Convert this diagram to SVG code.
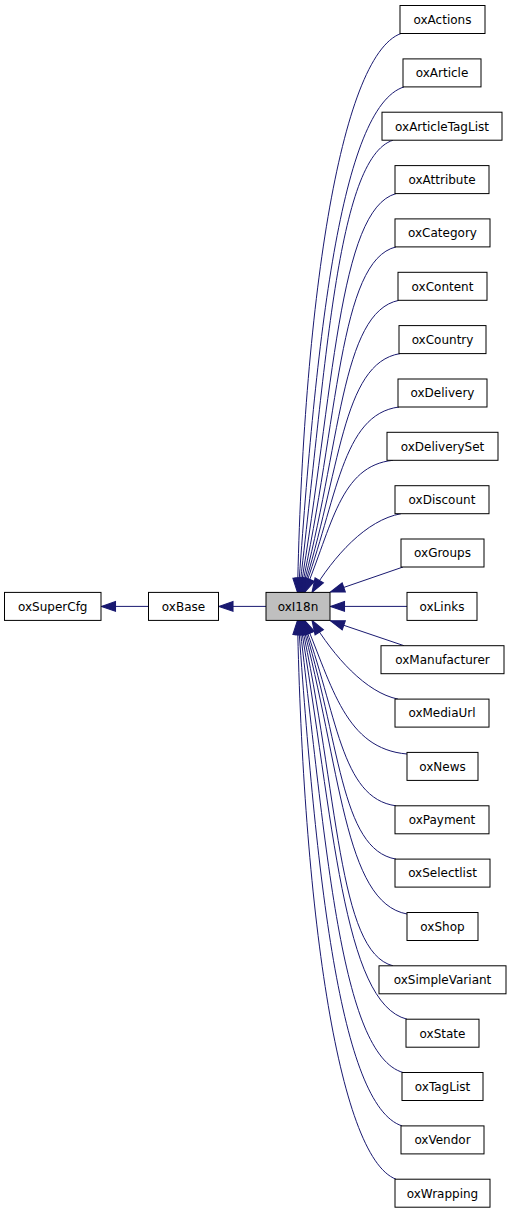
<svg xmlns="http://www.w3.org/2000/svg" width="512" height="1213" viewBox="0 0 512 1213">
<style>
.n rect{fill:#fff;stroke:#000;stroke-width:1}
.n.cur rect{fill:#bfbfbf}
.n text{font-family:"DejaVu Sans","Liberation Sans",sans-serif;font-size:12px;text-anchor:middle;fill:#000}
#edges path{fill:none;stroke:#191970;stroke-width:1;marker-end:url(#ah)}
</style>
<defs>
<marker id="ah" markerUnits="userSpaceOnUse" markerWidth="14" markerHeight="10" refX="13" refY="4.5" orient="auto" viewBox="0 0 13 9" overflow="visible">
<path d="M0,0 L13,4.5 L0,9 z" fill="#191970" stroke="#191970" stroke-width="1"/>
</marker>
</defs>
<rect width="512" height="1213" fill="#fff"/>
<g id="edges">
<path d="M148.5,606.4 L101.5,606.4"/>
<path d="M266,606.4 L219,606.4"/>
<path d="M401,33.5 C338.9,55.9 303.1,313 297.5,592.4"/>
<path d="M404,86.9 C340.6,107.1 316,339.7 298.3,592.4"/>
<path d="M393,140.2 C336.7,158.3 326.2,366.3 299.1,592.4"/>
<path d="M396,193.6 C338.3,209.6 333.8,393 299.9,592.4"/>
<path d="M396,246.9 C338.8,260.7 338.7,419.7 300.7,592.4"/>
<path d="M399,300.3 C340.5,312 340.9,446.4 301.5,592.4"/>
<path d="M400,353.6 C341.4,363.2 340.5,473 302.3,592.4"/>
<path d="M399,407 C341.5,414.4 337.4,499.7 303.1,592.4"/>
<path d="M393,460.3 C339.9,465.6 332.2,526.3 304.5,592.4"/>
<path d="M401,513.7 C366,520 334,556 312,592.4"/>
<path d="M403,567 L330.5,592"/>
<path d="M407,606.4 L330.5,606.4"/>
<path d="M404,645.7 L330.5,620.8"/>
<path d="M398,699.1 C366,692.7 334,656.7 312,620.3"/>
<path d="M407,754 C345.5,748.7 332.6,687.2 304.5,620.3"/>
<path d="M396,805.8 C340.3,798.4 337.4,713 303.1,620.3"/>
<path d="M396,859.1 C339.8,849.5 340.5,739.7 302.3,620.3"/>
<path d="M407,914 C343.7,902.3 341.1,767.2 301.5,620.3"/>
<path d="M393,965.8 C337.6,952 338.7,793.1 300.7,620.3"/>
<path d="M407,1019.2 C342.7,1003.1 333.8,819.7 299.9,620.3"/>
<path d="M403,1072.5 C340.7,1054.4 326.2,846.4 299.1,620.3"/>
<path d="M402,1125.9 C339.8,1105.6 316,873.1 298.3,620.3"/>
<path d="M396,1179.2 C336.9,1156.8 303.1,899.8 297.5,620.3"/>
</g>
<g id="oxSuperCfg" class="n"><rect x="4.5" y="592.4" width="96.5" height="28"/><text x="52.75" y="610.7">oxSuperCfg</text></g>
<g id="oxBase" class="n"><rect x="148.5" y="592.4" width="70" height="28"/><text x="183.5" y="610.7">oxBase</text></g>
<g id="oxI18n" class="n cur"><rect x="266" y="592.4" width="64" height="28"/><text x="298" y="610.7">oxI18n</text></g>
<g id="oxActions" class="n"><rect x="400" y="5.5" width="85" height="28"/><text x="442.5" y="23.8">oxActions</text></g>
<g id="oxArticle" class="n"><rect x="403" y="58.9" width="78" height="28"/><text x="442" y="77.2">oxArticle</text></g>
<g id="oxArticleTagList" class="n"><rect x="382" y="112.2" width="120" height="28"/><text x="442" y="130.5">oxArticleTagList</text></g>
<g id="oxAttribute" class="n"><rect x="395" y="165.6" width="94" height="28"/><text x="442" y="183.9">oxAttribute</text></g>
<g id="oxCategory" class="n"><rect x="395" y="218.9" width="95" height="28"/><text x="442.5" y="237.2">oxCategory</text></g>
<g id="oxContent" class="n"><rect x="398" y="272.3" width="89" height="28"/><text x="442.5" y="290.6">oxContent</text></g>
<g id="oxCountry" class="n"><rect x="399" y="325.6" width="87" height="28"/><text x="442.5" y="343.9">oxCountry</text></g>
<g id="oxDelivery" class="n"><rect x="398" y="379" width="89" height="28"/><text x="442.5" y="397.3">oxDelivery</text></g>
<g id="oxDeliverySet" class="n"><rect x="387" y="432.3" width="111" height="28"/><text x="442.5" y="450.6">oxDeliverySet</text></g>
<g id="oxDiscount" class="n"><rect x="395" y="485.7" width="94" height="28"/><text x="442" y="504">oxDiscount</text></g>
<g id="oxGroups" class="n"><rect x="401" y="539" width="83" height="28"/><text x="442.5" y="557.3">oxGroups</text></g>
<g id="oxLinks" class="n"><rect x="407" y="592.4" width="70" height="28"/><text x="442" y="610.7">oxLinks</text></g>
<g id="oxManufacturer" class="n"><rect x="381" y="645.7" width="123" height="28"/><text x="442.5" y="664">oxManufacturer</text></g>
<g id="oxMediaUrl" class="n"><rect x="395" y="699.1" width="94" height="28"/><text x="442" y="717.4">oxMediaUrl</text></g>
<g id="oxNews" class="n"><rect x="407" y="752.4" width="71" height="28"/><text x="442.5" y="770.7">oxNews</text></g>
<g id="oxPayment" class="n"><rect x="395" y="805.8" width="94" height="28"/><text x="442" y="824.1">oxPayment</text></g>
<g id="oxSelectlist" class="n"><rect x="395" y="859.1" width="95" height="28"/><text x="442.5" y="877.4">oxSelectlist</text></g>
<g id="oxShop" class="n"><rect x="407" y="912.5" width="71" height="28"/><text x="442.5" y="930.8">oxShop</text></g>
<g id="oxSimpleVariant" class="n"><rect x="379" y="965.8" width="127" height="28"/><text x="442.5" y="984.1">oxSimpleVariant</text></g>
<g id="oxState" class="n"><rect x="406" y="1019.2" width="73" height="28"/><text x="442.5" y="1037.5">oxState</text></g>
<g id="oxTagList" class="n"><rect x="402" y="1072.5" width="81" height="28"/><text x="442.5" y="1090.8">oxTagList</text></g>
<g id="oxVendor" class="n"><rect x="401" y="1125.9" width="83" height="28"/><text x="442.5" y="1144.2">oxVendor</text></g>
<g id="oxWrapping" class="n"><rect x="395" y="1179.2" width="95" height="28"/><text x="442.5" y="1197.5">oxWrapping</text></g>
</svg>
